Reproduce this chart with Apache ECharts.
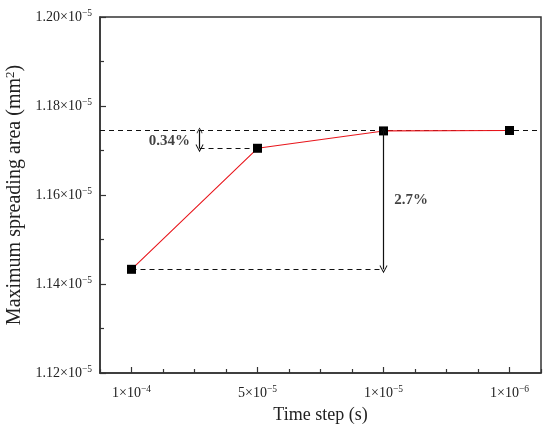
<!DOCTYPE html>
<html><head><meta charset="utf-8">
<script src="https://cdn.jsdelivr.net/npm/echarts@6/dist/echarts.min.js"></script>
<style>html,body{margin:0;padding:0;background:#fff}#c{width:550px;height:432px}</style>
</head><body><div id="c"></div>
<script>
// Data (y values in units of 1e-5 mm^2)
const categoryIndex = [0, 1, 2, 3];
const tickMantissa = ['1', '5', '1', '1'];
const tickExponent = ['−4', '−5', '−5', '−6'];
const areaE5 = [1.1433, 1.1705, 1.1744, 1.1745];
const converged = 1.1745;
const smallArrowX = 0.54;
const annotText = ['0.34%', '2.7%'];
const annotPos = [[0.30, 1.1721], [2.22, 1.1589]];

const FONT = 'Liberation Serif';
const X_MIN = -0.25, X_MAX = 3.25;
const chart = echarts.init(document.getElementById('c'));
const seriesData = categoryIndex.map((x, i) => [x, areaE5[i]]);
const minorX = [];
for (let v = X_MIN; v <= X_MAX + 1e-9; v += 0.25) {
  if (Math.abs(v - Math.round(v)) > 1e-6) minorX.push(+v.toFixed(2));
}
const axisColor = '#333';
const chevron = 'path://M0,9 L5,0 L10,9 L9,9.6 L5,2.4 L1,9.6 Z';
const richLab = {
  b: { fontFamily: FONT, fontSize: 14, color: '#222' },
  s: { fontFamily: FONT, fontSize: 9.5, color: '#222', padding: [0, 0, 8, 0] }
};

chart.setOption({
  animation: false,
  backgroundColor: '#fff',
  grid: { left: 100, right: 9, top: 17, bottom: 59, show: true, borderColor: axisColor, borderWidth: 1.5, containLabel: false, outerBoundsMode: 'none' },
  xAxis: [{
    type: 'value', min: X_MIN, max: X_MAX,
    axisLine: { show: true, onZero: false, lineStyle: { color: axisColor, width: 1.5 } },
    axisTick: { show: true, inside: true, length: 6, customValues: categoryIndex, lineStyle: { color: axisColor, width: 1.2 } },
    axisLabel: {
      customValues: categoryIndex, margin: 11,
      formatter: v => { const i = Math.round(v); return `{b|${tickMantissa[i]}×10}{s|${tickExponent[i]}}`; },
      rich: richLab
    },
    splitLine: { show: false },
    name: 'Time step (s)', nameLocation: 'middle', nameGap: 33,
    nameTextStyle: { fontFamily: FONT, fontSize: 18, color: '#222' }
  }, {
    type: 'value', min: X_MIN, max: X_MAX, position: 'bottom',
    axisLine: { show: false, onZero: false },
    axisTick: { show: true, inside: true, length: 4, customValues: minorX, lineStyle: { color: axisColor, width: 1.2 } },
    axisLabel: { show: false }, splitLine: { show: false }
  }],
  yAxis: {
    type: 'value', min: 1.12, max: 1.20, interval: 0.02,
    axisLine: { show: true, onZero: false, lineStyle: { color: axisColor, width: 1.5 } },
    axisTick: { show: true, inside: true, length: 6, lineStyle: { color: axisColor, width: 1.2 } },
    minorTick: { show: true, splitNumber: 2, length: 4, lineStyle: { color: axisColor, width: 1.2 } },
    axisLabel: {
      margin: 8,
      formatter: v => `{b|${v.toFixed(2)}×10}{s|−5}`,
      rich: richLab
    },
    splitLine: { show: false },
    name: '{n|Maximum spreading area (mm}{s|2}{n|)}', nameLocation: 'middle', nameGap: 72, nameRotate: 90,
    nameTextStyle: {
      fontFamily: FONT, fontSize: 20, color: '#222',
      rich: {
        n: { fontFamily: FONT, fontSize: 20, color: '#222' },
        s: { fontFamily: FONT, fontSize: 13, color: '#222', padding: [0, 0, 9, 0] }
      }
    }
  },
  series: [{
    type: 'line', data: seriesData, symbol: 'rect', symbolSize: 9,
    itemStyle: { color: '#000' }, lineStyle: { color: '#e8151b', width: 1.1 },
    z: 5,
    markLine: {
      silent: true, symbol: ['none', 'none'], label: { show: false },
      lineStyle: { type: [5, 4], color: '#111', width: 1.2 },
      data: [
        [{ coord: [X_MIN, converged] }, { coord: [X_MAX, converged] }],
        [{ coord: [categoryIndex[0], areaE5[0]] }, { coord: [categoryIndex[2], areaE5[0]] }],
        [{ coord: [smallArrowX, areaE5[1]] }, { coord: [categoryIndex[1], areaE5[1]] }]
      ]
    }
  }, {
    type: 'lines', coordinateSystem: 'cartesian2d', xAxisIndex: 0, yAxisIndex: 0,
    symbol: [chevron, chevron], symbolSize: [8, 6],
    lineStyle: { color: '#111', width: 1.2, opacity: 1 },
    z: 6,
    data: [
      { coords: [[categoryIndex[2], areaE5[0]], [categoryIndex[2], converged]] },
      { coords: [[smallArrowX, areaE5[1]], [smallArrowX, converged]] }
    ]
  }, {
    type: 'scatter', symbolSize: 0,
    data: annotPos.map((p, i) => [p[0], p[1], annotText[i]]),
    label: { show: true, position: 'inside', formatter: p => p.value[2], fontFamily: FONT, fontSize: 15, fontWeight: 'bold', color: '#111' }
  }]
});
</script></body></html>
